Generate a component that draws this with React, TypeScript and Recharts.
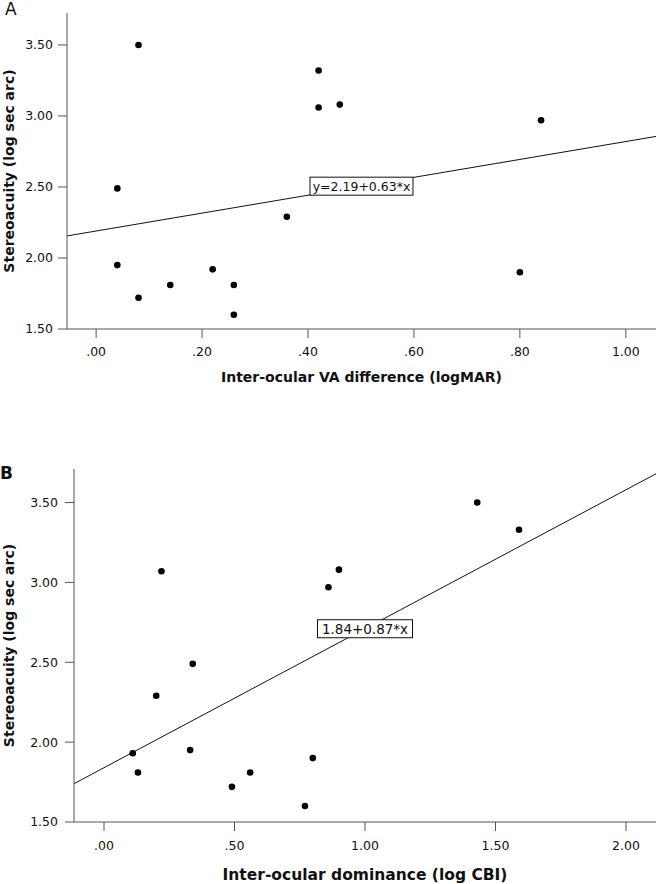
import { ScatterChart, Scatter, XAxis, YAxis, ReferenceLine, ReferenceDot, Label } from "recharts";

// Panel A: inter-ocular VA difference vs stereoacuity
const vaDiff = [0.08, 0.42, 0.42, 0.46, 0.84, 0.04, 0.36, 0.04, 0.08, 0.14, 0.22, 0.26, 0.26, 0.8];
const stereoA = [3.5, 3.32, 3.06, 3.08, 2.97, 2.49, 2.29, 1.95, 1.72, 1.81, 1.92, 1.81, 1.6, 1.9];
const ticksA = [0, 0.2, 0.4, 0.6, 0.8, 1.0];
const fitA = { a: 2.19, b: 0.63, label: "y=2.19+0.63*x" };

// Panel B: inter-ocular dominance vs stereoacuity
const dominance = [1.43, 1.59, 0.9, 0.86, 0.22, 0.34, 0.2, 0.11, 0.13, 0.33, 0.49, 0.56, 0.8, 0.77];
const stereoB = [3.5, 3.33, 3.08, 2.97, 3.07, 2.49, 2.29, 1.93, 1.81, 1.95, 1.72, 1.81, 1.9, 1.6];
const ticksB = [0, 0.5, 1.0, 1.5, 2.0];
const fitB = { a: 1.84, b: 0.87, label: "1.84+0.87*x" };

const yTicks = [1.5, 2.0, 2.5, 3.0, 3.5];

const FONT = "DejaVu Sans";
const AXIS = "#555";

const fmt = (v: number) => {
  const s = v.toFixed(2);
  return s.startsWith("0") ? s.slice(1) : s;
};

function EqBox({ cx, cy, text, w, fs }: any) {
  return (
    <g>
      <rect x={cx - w / 2} y={cy - 9} width={w} height={18} fill="#fff" stroke="#111" strokeWidth={1} />
      <text x={cx} y={cy} textAnchor="middle" dominantBaseline="central" fontFamily={FONT} fontSize={fs} fill="#111">
        {text}
      </text>
    </g>
  );
}

type PanelProps = {
  xs: number[];
  ys: number[];
  xTicks: number[];
  xDomain: [number, number];
  yMax: number;
  fit: { a: number; b: number; label: string };
  xTitle: string;
  letter: string;
  height: number;
  top: number;
  yAxisW: number;
  xAxisH: number;
  xTickMargin: number;
  yTickMargin: number;
  titleOffset: number;
  titleSize: number;
  boxW: number;
  boxFs: number;
  letterX: number;
  letterY: number;
  letterBold: boolean;
};

function Panel(p: PanelProps) {
  const data = p.xs.map((x, i) => ({ x, y: p.ys[i] }));
  const [x0, x1] = p.xDomain;
  const xm = (x0 + x1) / 2;
  const tick = { fontFamily: FONT, fontSize: 12.5, fill: "#111" };
  return (
    <ScatterChart width={656} height={p.height} margin={{ top: p.top, right: 0, left: 0, bottom: 0 }}>
      <XAxis type="number" dataKey="x" domain={p.xDomain} ticks={p.xTicks} tickFormatter={fmt} allowDataOverflow
        height={p.xAxisH} tickSize={9} tickMargin={p.xTickMargin} stroke={AXIS} tick={tick}>
        <Label position="insideBottom" offset={p.titleOffset} value={p.xTitle}
          style={{ fontFamily: FONT, fontSize: p.titleSize, fontWeight: "bold", fill: "#111" }} />
      </XAxis>
      <YAxis type="number" dataKey="y" domain={[1.5, p.yMax]} ticks={yTicks} tickFormatter={(v: number) => v.toFixed(2)}
        allowDataOverflow width={p.yAxisW} tickSize={9} tickMargin={p.yTickMargin} stroke={AXIS} tick={tick}>
        <Label
          content={(lp: any) => {
            const vb = lp.viewBox;
            const cy = vb.y + vb.height / 2;
            return (
              <g>
                <text x={9} y={cy} transform={`rotate(-90 9 ${cy})`} textAnchor="middle" dominantBaseline="central"
                  fontFamily={FONT} fontSize={14} fontWeight="bold" fill="#111">
                  Stereoacuity (log sec arc)
                </text>
                <text x={p.letterX} y={p.letterY} fontFamily={FONT} fontSize={17}
                  fontWeight={p.letterBold ? "bold" : "normal"} fill="#111">
                  {p.letter}
                </text>
              </g>
            );
          }}
        />
      </YAxis>
      <ReferenceLine
        segment={[
          { x: x0, y: p.fit.a + p.fit.b * x0 },
          { x: x1, y: p.fit.a + p.fit.b * x1 },
        ]}
        stroke="#111"
        strokeWidth={1}
        ifOverflow="hidden"
      />
      <Scatter data={data} fill="#000" isAnimationActive={false}
        shape={(s: any) => <circle cx={s.cx} cy={s.cy} r={3.3} fill="#000" />} />
      <ReferenceDot x={xm} y={p.fit.a + p.fit.b * xm} ifOverflow="visible"
        shape={(s: any) => <EqBox cx={s.cx} cy={s.cy} text={p.fit.label} w={p.boxW} fs={p.boxFs} />} />
    </ScatterChart>
  );
}

export default function App() {
  return (
    <div style={{ position: "absolute", left: 0, top: 0, width: 656, height: 884, background: "#fff" }}>
      <Panel xs={vaDiff} ys={stereoA} xTicks={ticksA} xDomain={[-0.055, 1.057]} yMax={3.725} fit={fitA}
        xTitle="Inter-ocular VA difference (logMAR)" letter="A" height={400} top={13} yAxisW={67} xAxisH={71}
        xTickMargin={9} yTickMargin={5} titleOffset={18} titleSize={14} boxW={103} boxFs={12.5}
        letterX={5} letterY={15} letterBold={false} />
      <Panel xs={dominance} ys={stereoB} xTicks={ticksB} xDomain={[-0.115, 2.115]} yMax={3.71} fit={fitB}
        xTitle="Inter-ocular dominance (log CBI)" letter="B" height={484} top={69} yAxisW={74} xAxisH={62}
        xTickMargin={10} yTickMargin={7} titleOffset={4} titleSize={15.5} boxW={95} boxFs={13.5}
        letterX={0} letterY={79} letterBold={true} />
    </div>
  );
}
